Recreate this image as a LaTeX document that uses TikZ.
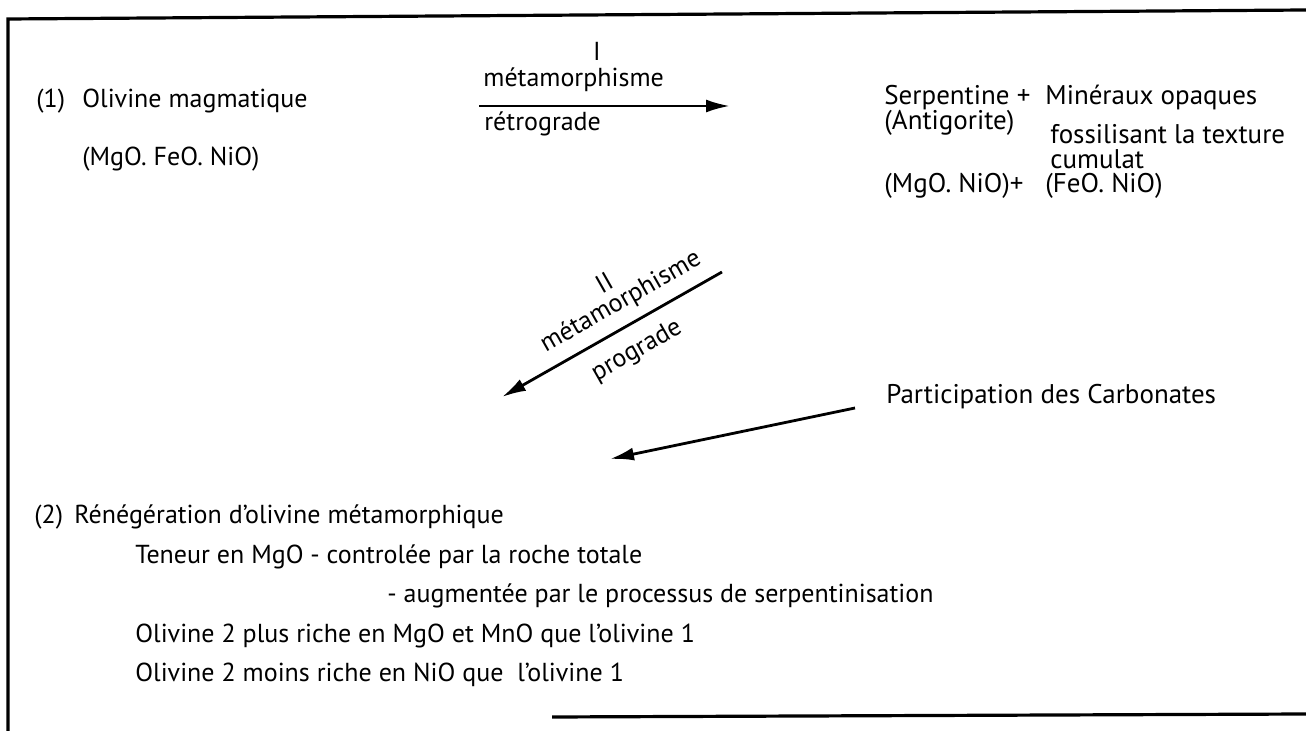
\documentclass[tikz,border=0pt]{standalone}
\usepackage{fontspec}
\setmainfont{PT Sans}
\usetikzlibrary{arrows.meta}
\begin{document}
\begin{tikzpicture}[x=0.5pt, y=-0.5pt,
    every node/.style={font=\fontsize{13}{15}\selectfont, anchor=base west, inner sep=0pt},
    big/.style={font=\fontsize{13.5}{15}\selectfont},
    arr/.style={line width=1.4pt, -{Latex[length=12pt,width=6.5pt]}},
    slab/.style={anchor=center, rotate=29.7}]
    \useasboundingbox (0,0) rectangle (1306,731);
    % frame
    \draw[line width=1.6pt] (8,731) -- (8,19) -- (1306,10);
    \draw[line width=1.6pt] (552,717) -- (1306,714);
    % (1) magmatic olivine
    \node (num1) at (36,108) {(1)};
    \node (oliv1) at (82,108) {Olivine magmatique};
    \node (comp1) at (82,166) {(MgO. FeO. NiO)};
    % I retrograde
    \node[anchor=base] (rI) at (597,61) {I};
    \node (retA) at (483,87) {métamorphisme};
    \node (retB) at (484,131) {rétrograde};
    \coordinate (aIs) at (479,106);
    \coordinate (aIe) at (730,106);
    \draw[arr] (aIs) -- (aIe);
    % serpentine
    \node[big] (serp) at (884,105) {Serpentine +};
    \node[big] (opaq) at (1045,105) {Minéraux opaques};
    \node[big] (anti) at (884,130) {(Antigorite)};
    \node[big] (foss) at (1050,144) {fossilisant la texture};
    \node[big] (cumu) at (1050,169) {cumulat};
    \node[big] (comp2) at (884,193) {(MgO. NiO)+};
    \node[big] (comp3) at (1045,193) {(FeO. NiO)};
    % II prograde
    \coordinate (aIIs) at (722,272);
    \coordinate (aIIe) at (502,397);
    \draw[arr] (aIIs) -- (aIIe);
    \node[slab] (rII) at (604,283) {II};
    \node[slab] (proA) at (621,302) {métamorphisme};
    \node[slab] (proB) at (637,351) {prograde};
    % carbonates
    \node[big] (carb) at (886,404) {Participation des Carbonates};
    \coordinate (aIIIs) at (855,408);
    \coordinate (aIIIe) at (610,459);
    \draw[arr] (aIIIs) -- (aIIIe);
    % (2) metamorphic olivine
    \node (num2) at (34,524) {(2)};
    \node (oliv2) at (74,524) {Rénégération d'olivine métamorphique};
    \node (ten) at (135,564) {Teneur en MgO};
    \node (tenA) at (310,564) {- controlée par la roche totale};
    \node (tenB) at (387,603) {- augmentée par le processus de serpentinisation};
    \node (cmpA) at (135,642) {Olivine 2 plus riche en MgO et MnO que l'olivine 1};
    \node (cmpB) at (135,681) {Olivine 2 moins riche en NiO que\ \ l'olivine 1};
\end{tikzpicture}
\end{document}
